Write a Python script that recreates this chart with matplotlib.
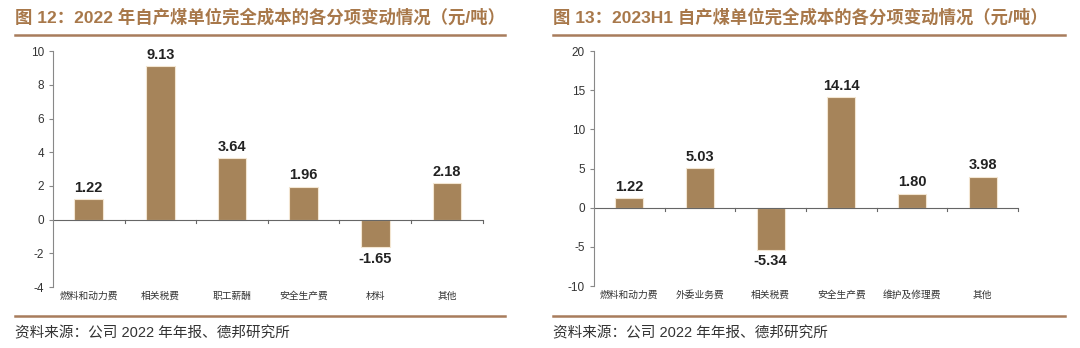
import matplotlib.pyplot as plt
import numpy as np
from matplotlib.lines import Line2D

plt.rcParams['font.family'] = ['Liberation Sans', 'Noto Sans CJK SC', 'DejaVu Sans']
plt.rcParams['axes.unicode_minus'] = False

cats_2022 = ["燃料和动力费", "相关税费", "职工薪酬", "安全生产费", "材料", "其他"]
vals_2022 = [1.22, 9.13, 3.64, 1.96, -1.65, 2.18]

cats_2023 = ["燃料和动力费", "外委业务费", "相关税费", "安全生产费", "维护及修理费", "其他"]
vals_2023 = [1.22, 5.03, -5.34, 14.14, 1.80, 3.98]

bar_color = "#A6845A"
brown = "#A8784A"
line_col = "#A87C5C"

fig = plt.figure(figsize=(10.8, 3.48), dpi=100)


def panel(rect, cats, vals, ylim, yticks, offset):
    ax = fig.add_axes(rect)
    x = np.arange(len(cats))
    bars = ax.bar(x, vals, width=0.4, color=bar_color, edgecolor="#F3E6D2", linewidth=0.8)
    for b, v in zip(bars, vals):
        if v >= 0:
            ax.text(b.get_x() + b.get_width() / 2, v + offset, f"{v:.2f}",
                    ha="center", va="bottom", fontsize=10.5, fontweight="bold", color="#222222")
        else:
            ax.text(b.get_x() + b.get_width() / 2, v - offset, f"{v:.2f}",
                    ha="center", va="top", fontsize=10.5, fontweight="bold", color="#222222")
    ax.set_xlim(-0.5, len(cats) - 0.5)
    ax.set_ylim(*ylim)
    ax.set_yticks(yticks)
    ax.tick_params(axis="y", labelsize=8.5, length=3, color="#888888", labelcolor="#333333", width=0.8)
    ax.set_xticks([])
    for s in ["top", "right", "bottom"]:
        ax.spines[s].set_visible(False)
    ax.spines["left"].set_color("#888888")
    ax.spines["left"].set_linewidth(0.8)
    ax.axhline(0, color="#666666", linewidth=0.8)
    # boundary ticks on zero line
    rng = ylim[1] - ylim[0]
    for b in np.arange(0.5, len(cats), 1.0):
        ax.plot([b, b], [0, -rng * 0.012], color="#666666", linewidth=0.8, clip_on=False)
    # category labels under the axes
    for xi, c in zip(x, cats):
        ax.text(xi, ylim[0] - rng * 0.015, c, ha="center", va="top", fontsize=7, color="#333333")
    return ax


panel([0.049, 0.175, 0.398, 0.678], cats_2022, vals_2022, (-4, 10), [-4, -2, 0, 2, 4, 6, 8, 10], 0.25)
panel([0.55, 0.178, 0.3926, 0.675], cats_2023, vals_2023, (-10, 20), [-10, -5, 0, 5, 10, 15, 20], 0.55)

# titles
fig.text(15 / 1080, 1 - 17 / 348, "图 12：2022 年自产煤单位完全成本的各分项变动情况（元/吨）",
         fontsize=12.5, fontweight="bold", color=brown, va="center", ha="left")
fig.text(553 / 1080, 1 - 17 / 348, "图 13：2023H1 自产煤单位完全成本的各分项变动情况（元/吨）",
         fontsize=12.5, fontweight="bold", color=brown, va="center", ha="left")

# rules
for x0, x1 in [(15, 505), (553, 1065)]:
    for yy in [35, 316]:
        fig.add_artist(Line2D([x0 / 1080, x1 / 1080], [1 - yy / 348, 1 - yy / 348],
                              color=line_col, linewidth=1.8))

# footers
fig.text(15 / 1080, 1 - 333 / 348, "资料来源：公司 2022 年年报、德邦研究所", fontsize=10.5,
         color="#333333", va="center", ha="left")
fig.text(553 / 1080, 1 - 333 / 348, "资料来源：公司 2022 年年报、德邦研究所", fontsize=10.5,
         color="#333333", va="center", ha="left")

fig.savefig("out.png", dpi=100, facecolor="white")
